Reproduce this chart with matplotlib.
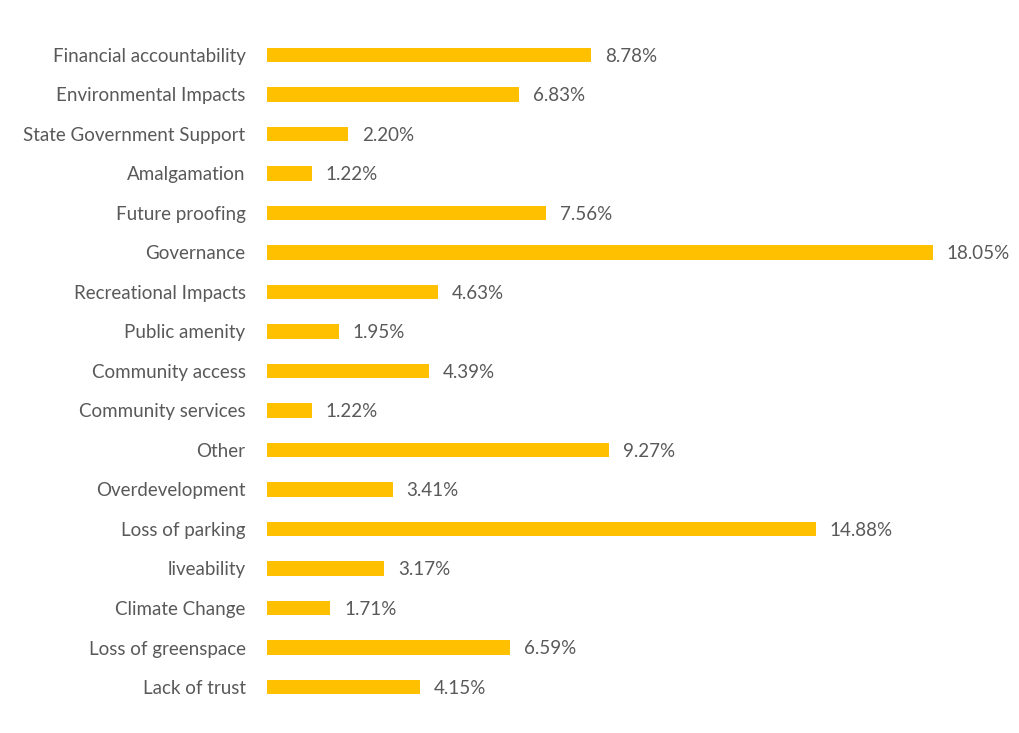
import matplotlib.pyplot as plt

categories = ["Financial accountability", "Environmental Impacts", "State Government Support",
              "Amalgamation", "Future proofing", "Governance", "Recreational Impacts",
              "Public amenity", "Community access", "Community services", "Other",
              "Overdevelopment", "Loss of parking", "liveability", "Climate Change",
              "Loss of greenspace", "Lack of trust"]
values = [8.78, 6.83, 2.20, 1.22, 7.56, 18.05, 4.63, 1.95, 4.39, 1.22, 9.27,
          3.41, 14.88, 3.17, 1.71, 6.59, 4.15]

plt.rcParams['font.family'] = ['Lato', 'DejaVu Sans']

fig = plt.figure(figsize=(10.2, 7.33), dpi=100)
ax = fig.add_axes([0.2618, 0.0358, 0.7232, 0.9162])

ypos = list(range(len(categories)))
ax.barh(ypos, values, height=0.36, color="#FFC000")
for y, v in zip(ypos, values):
    ax.annotate(f"{v:.2f}%", (v, y), xytext=(10, -1), textcoords="offset points",
                va="center", ha="left", fontsize=13.5, color="#595959")

ax.set_xlim(0, 20)
ax.set_ylim(len(categories) - 0.5, -0.5)
ax.set_yticks(ypos)
ax.set_yticklabels(categories, fontsize=13.5, color="#595959")
ax.tick_params(axis="y", length=0, pad=15.5)
ax.set_xticks([])
for s in ax.spines.values():
    s.set_visible(False)

fig.savefig("out.png", dpi=100)
